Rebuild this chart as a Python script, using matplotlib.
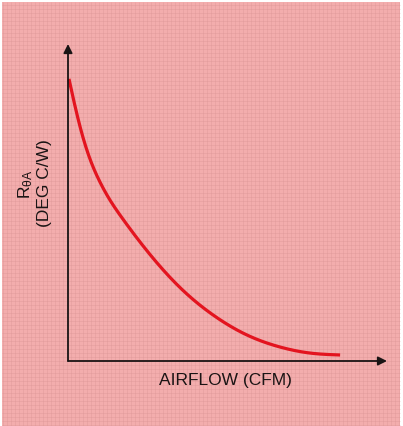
import matplotlib
matplotlib.use("Agg")
import matplotlib.pyplot as plt
from matplotlib.patches import Rectangle
from matplotlib.collections import LineCollection
import numpy as np

# Curve samples: airflow vs. sink-to-ambient thermal resistance (arbitrary units)
airflow = [0.03, 0.22, 0.44, 0.69, 1.00, 1.32, 1.69, 2.57, 3.57, 4.55,
           5.61, 6.65, 7.59, 8.53]
r_theta = [8.90, 8.04, 7.16, 6.37, 5.65, 5.07, 4.52, 3.36, 2.26, 1.45,
           0.82, 0.44, 0.25, 0.19]

x_label = "AIRFLOW (CFM)"
y_label_sym = r"R$_{\theta\mathrm{A}}$"
y_label_unit = "(DEG C/W)"

BG = "#f3adad"
WEAVE = "#d99393"
CURVE = "#e3141f"
INK = "#1a1414"

plt.rcParams["font.family"] = ["Liberation Sans", "DejaVu Sans"]
plt.rcParams["mathtext.fontset"] = "custom"
plt.rcParams["mathtext.rm"] = "Liberation Sans"
plt.rcParams["mathtext.it"] = "Liberation Sans"

W, H = 403, 427
fig = plt.figure(figsize=(W / 100, H / 100), dpi=100, facecolor="white")

ax = fig.add_axes([0, 0, 1, 1])
ax.set_facecolor("none")
ox, oy = 68, 362
sx, sy = 31.9, 31.7
ax.set_xlim(-ox / sx, (W - ox) / sx)
ax.set_ylim((oy - H) / sy, oy / sy)
ax.axis("off")

# pink panel with a thin white border
ax.add_patch(Rectangle((2 / W, 0), (W - 5) / W, (H - 3) / H,
                       transform=ax.transAxes, facecolor=BG,
                       edgecolor="none", zorder=0))

# faint woven paper texture
pitch = 4.0
segs = []
for px in np.arange(3, W - 3, pitch):
    segs.append([(px / W, 0), (px / W, (H - 3) / H)])
for py in np.arange(1, H - 3, pitch):
    segs.append([(2 / W, py / H), ((W - 3) / W, py / H)])
ax.add_collection(LineCollection(segs, colors=WEAVE, linewidths=0.5, alpha=0.45,
                                 transform=ax.transAxes, zorder=1))


def natural_spline(x, y, xn):
    """Natural cubic spline through the samples."""
    n = len(x)
    h = np.diff(x)
    A = np.zeros((n, n))
    b = np.zeros(n)
    A[0, 0] = A[-1, -1] = 1.0
    for i in range(1, n - 1):
        A[i, i - 1] = h[i - 1]
        A[i, i] = 2 * (h[i - 1] + h[i])
        A[i, i + 1] = h[i]
        b[i] = 3 * ((y[i + 1] - y[i]) / h[i] - (y[i] - y[i - 1]) / h[i - 1])
    c = np.linalg.solve(A, b)
    out = np.empty_like(xn)
    for j, v in enumerate(xn):
        i = min(max(np.searchsorted(x, v, side="right") - 1, 0), n - 2)
        dx = v - x[i]
        bi = (y[i + 1] - y[i]) / h[i] - h[i] * (2 * c[i] + c[i + 1]) / 3
        di = (c[i + 1] - c[i]) / (3 * h[i])
        out[j] = y[i] + bi * dx + c[i] * dx**2 + di * dx**3
    return out


xs = np.array(airflow)
ys = np.array(r_theta)
xn = np.linspace(xs[0], xs[-1], 400)
ax.plot(xn, natural_spline(xs, ys, xn), color=CURVE, lw=2.3,
        solid_capstyle="butt", zorder=3)

# axes with arrowheads
arrow = dict(arrowstyle="-|>", lw=1.3, color=INK, mutation_scale=13,
             shrinkA=0, shrinkB=0)
ax.annotate("", xy=(10.0, 0), xytext=(0, 0), arrowprops=arrow, zorder=4)
ax.annotate("", xy=(0, 10.0), xytext=(0, 0), arrowprops=arrow, zorder=4)

ax.text((225 - ox) / sx, (oy - 381) / sy, x_label, ha="center", va="center",
        fontsize=12.5, color=INK, zorder=5)
ax.text((26 - ox) / sx, (oy - 184) / sy, y_label_sym, ha="center", va="center",
        rotation=90, fontsize=12.5, color=INK, zorder=5)
ax.text((44 - ox) / sx, (oy - 183) / sy, y_label_unit, ha="center", va="center",
        rotation=90, fontsize=12.5, color=INK, zorder=5)

fig.savefig("out.png", dpi=100, facecolor="white")
